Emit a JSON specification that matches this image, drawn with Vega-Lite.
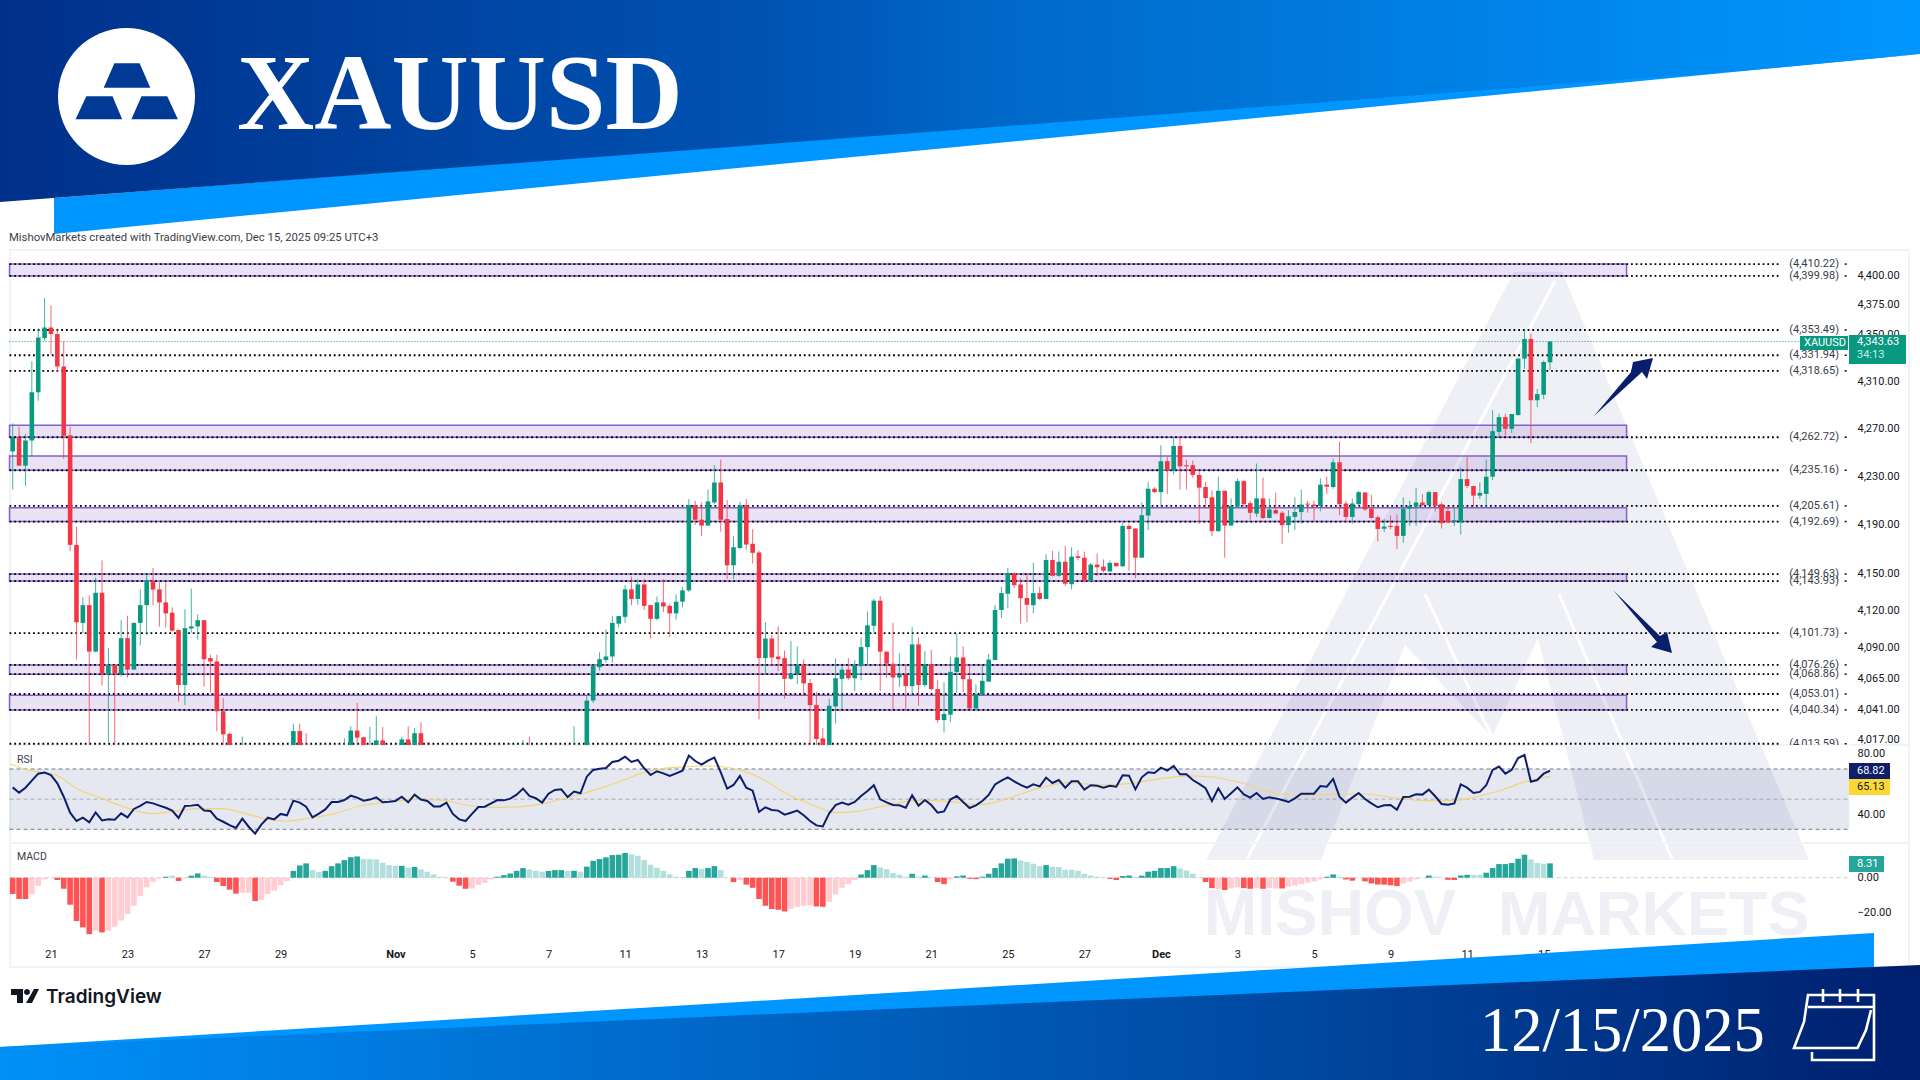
{
"$schema":"https://vega.github.io/schema/vega-lite/v6.json",
"width":1920,"height":1080,"padding":0,"autosize":{"type":"none"},"background":"#ffffff",
"config":{"view":{"stroke":null},"axis":{"grid":false,"domain":false,"ticks":false,"title":null,"labelFont":"Roboto","labelFontSize":11,"labelColor":"#131722","labelPadding":0,"labelOverlap":false,"labelFlush":false}},
"datasets":{
"bars":[
{"i":0,"o":4250.8,"h":4274.4,"l":4219.2,"c":4262.3,"rsi":57.8,"macd":-9.4,"s":"R"},
{"i":1,"o":4262.3,"h":4271.5,"l":4239,"c":4239,"rsi":54.3,"macd":-12.3,"s":"R"},
{"i":2,"o":4239,"h":4265.7,"l":4222.1,"c":4260,"rsi":57.6,"macd":-12.3,"s":"R"},
{"i":3,"o":4260,"h":4326.8,"l":4247,"c":4300.5,"rsi":62.3,"macd":-9.4,"s":"r"},
{"i":4,"o":4300.5,"h":4354.7,"l":4293.3,"c":4347,"rsi":66.9,"macd":-4.6,"s":"r"},
{"i":5,"o":4346.5,"h":4381,"l":4344.4,"c":4355.6,"rsi":67.6,"macd":-1,"s":"r"},
{"i":6,"o":4355.6,"h":4374.5,"l":4332.6,"c":4350,"rsi":66,"macd":-0.2,"s":"r"},
{"i":7,"o":4350,"h":4353.8,"l":4318,"c":4322.4,"rsi":60.5,"macd":-1.3,"s":"R"},
{"i":8,"o":4322.4,"h":4343.8,"l":4244.7,"c":4264,"rsi":51.6,"macd":-6.4,"s":"R"},
{"i":9,"o":4264.3,"h":4271.5,"l":4168.2,"c":4173.5,"rsi":41,"macd":-15.6,"s":"R"},
{"i":10,"o":4173.5,"h":4188.5,"l":4080.6,"c":4110.5,"rsi":35.5,"macd":-25,"s":"R"},
{"i":11,"o":4110,"h":4130.8,"l":4101.6,"c":4124.4,"rsi":37.7,"macd":-28.7,"s":"R"},
{"i":12,"o":4124.4,"h":4132.2,"l":3990,"c":4086.9,"rsi":34.6,"macd":-32.6,"s":"R"},
{"i":13,"o":4086.9,"h":4146.8,"l":4086.4,"c":4134.4,"rsi":41.2,"macd":-30.6,"s":"r"},
{"i":14,"o":4134.4,"h":4160.8,"l":4059.6,"c":4069,"rsi":35.9,"macd":-31.6,"s":"R"},
{"i":15,"o":4069,"h":4090,"l":4015,"c":4076.1,"rsi":36.6,"macd":-30.6,"s":"r"},
{"i":16,"o":4076.1,"h":4076.7,"l":3995,"c":4069.2,"rsi":36.4,"macd":-28.3,"s":"r"},
{"i":17,"o":4069,"h":4112.5,"l":4067,"c":4097.7,"rsi":40.6,"macd":-24.7,"s":"r"},
{"i":18,"o":4097.7,"h":4115.8,"l":4066.2,"c":4072.5,"rsi":37.9,"macd":-21,"s":"r"},
{"i":19,"o":4072.5,"h":4110.5,"l":4072.5,"c":4110,"rsi":43.5,"macd":-16.2,"s":"r"},
{"i":20,"o":4110,"h":4137.2,"l":4091.9,"c":4124.4,"rsi":45.5,"macd":-10.6,"s":"r"},
{"i":21,"o":4124.4,"h":4149.6,"l":4100.2,"c":4144.5,"rsi":48.1,"macd":-5.6,"s":"r"},
{"i":22,"o":4144,"h":4154.6,"l":4124.4,"c":4137,"rsi":47.2,"macd":-2.3,"s":"r"},
{"i":23,"o":4137.2,"h":4143.4,"l":4107,"c":4126.6,"rsi":45.7,"macd":-0.4,"s":"r"},
{"i":24,"o":4126.6,"h":4143.4,"l":4106.3,"c":4117.7,"rsi":44.3,"macd":0.6,"s":"G"},
{"i":25,"o":4118.3,"h":4122.5,"l":4103,"c":4103.8,"rsi":42.4,"macd":1.2,"s":"g"},
{"i":26,"o":4104.4,"h":4104.4,"l":4047,"c":4060.2,"rsi":37.5,"macd":-1.9,"s":"R"},
{"i":27,"o":4060.2,"h":4121,"l":4044.2,"c":4105.8,"rsi":45.5,"macd":-0.2,"s":"r"},
{"i":28,"o":4105.5,"h":4137.8,"l":4102.2,"c":4107.2,"rsi":45.7,"macd":1.2,"s":"G"},
{"i":29,"o":4107.2,"h":4116.9,"l":4096.6,"c":4112.2,"rsi":46.3,"macd":2.5,"s":"G"},
{"i":30,"o":4112.2,"h":4112.2,"l":4058.8,"c":4080.8,"rsi":42.4,"macd":1.2,"s":"g"},
{"i":31,"o":4081.7,"h":4084.4,"l":4054.1,"c":4079,"rsi":42.1,"macd":0.4,"s":"g"},
{"i":32,"o":4079,"h":4084.4,"l":4023.3,"c":4039.3,"rsi":37,"macd":-2.5,"s":"R"},
{"i":33,"o":4039.3,"h":4049.7,"l":4000,"c":4021,"rsi":35,"macd":-4.8,"s":"R"},
{"i":34,"o":4021.4,"h":4022.5,"l":3998,"c":4005,"rsi":32.8,"macd":-6.9,"s":"R"},
{"i":35,"o":4005,"h":4010,"l":3985,"c":3990,"rsi":30.9,"macd":-9.2,"s":"R"},
{"i":36,"o":3985,"h":4019.2,"l":3975,"c":4000,"rsi":37,"macd":-8.7,"s":"r"},
{"i":37,"o":4000,"h":4008,"l":3978,"c":3985,"rsi":31.7,"macd":-8.7,"s":"r"},
{"i":38,"o":3985,"h":3992,"l":3960,"c":3970,"rsi":27.1,"macd":-13.5,"s":"R"},
{"i":39,"o":3970,"h":3995,"l":3965,"c":3985,"rsi":33.3,"macd":-12.9,"s":"r"},
{"i":40,"o":3985,"h":4005,"l":3980,"c":3998,"rsi":37.7,"macd":-9.4,"s":"r"},
{"i":41,"o":3990,"h":4008,"l":3985,"c":4000,"rsi":36.6,"macd":-7.5,"s":"r"},
{"i":42,"o":4000,"h":4006,"l":3985,"c":3992,"rsi":40.2,"macd":-4.2,"s":"r"},
{"i":43,"o":3992,"h":4012,"l":3990,"c":4005,"rsi":39.3,"macd":-1.9,"s":"r"},
{"i":44,"o":4005,"h":4029.5,"l":4000,"c":4023.6,"rsi":49,"macd":4,"s":"G"},
{"i":45,"o":4023.6,"h":4029.5,"l":4000,"c":4008,"rsi":47.7,"macd":7.1,"s":"G"},
{"i":46,"o":4008,"h":4021.9,"l":3995,"c":4000,"rsi":45,"macd":8.3,"s":"G"},
{"i":47,"o":4000,"h":4006,"l":3985,"c":3990,"rsi":37.9,"macd":4.4,"s":"g"},
{"i":48,"o":3990,"h":3998,"l":3978,"c":3985,"rsi":40.4,"macd":3.3,"s":"g"},
{"i":49,"o":3985,"h":4000,"l":3980,"c":3995,"rsi":43.2,"macd":4,"s":"G"},
{"i":50,"o":3995,"h":4006,"l":3990,"c":4000,"rsi":48.1,"macd":6.7,"s":"G"},
{"i":51,"o":4000,"h":4008,"l":3990,"c":3996,"rsi":48.1,"macd":8.3,"s":"G"},
{"i":52,"o":3996,"h":4017.9,"l":3992,"c":4008,"rsi":49.4,"macd":10.2,"s":"G"},
{"i":53,"o":4008,"h":4027.4,"l":4004,"c":4024,"rsi":52.3,"macd":11.9,"s":"G"},
{"i":54,"o":4024,"h":4045.9,"l":4012,"c":4018.4,"rsi":51,"macd":12.3,"s":"G"},
{"i":55,"o":4018.7,"h":4019.2,"l":4004,"c":4008,"rsi":49,"macd":10.8,"s":"g"},
{"i":56,"o":4008,"h":4026.8,"l":4003,"c":4010,"rsi":49.7,"macd":10.8,"s":"g"},
{"i":57,"o":4010,"h":4035.5,"l":4006,"c":4016.2,"rsi":51.2,"macd":10.6,"s":"g"},
{"i":58,"o":4016.2,"h":4026.8,"l":4000,"c":4006,"rsi":47.9,"macd":8.7,"s":"g"},
{"i":59,"o":4006,"h":4010,"l":3995,"c":4000,"rsi":48.3,"macd":7.3,"s":"g"},
{"i":60,"o":4000,"h":4012,"l":3998,"c":4008,"rsi":48.8,"macd":6.9,"s":"g"},
{"i":61,"o":4008,"h":4019.2,"l":4005,"c":4017,"rsi":51.6,"macd":6.9,"s":"G"},
{"i":62,"o":4017,"h":4027.4,"l":4002,"c":4006,"rsi":47.9,"macd":5.8,"s":"g"},
{"i":63,"o":4006,"h":4026,"l":4003,"c":4021.9,"rsi":53,"macd":6.2,"s":"G"},
{"i":64,"o":4021.9,"h":4030.6,"l":4004,"c":4008,"rsi":49.7,"macd":4.8,"s":"g"},
{"i":65,"o":4008,"h":4014.9,"l":3995,"c":4000,"rsi":48.8,"macd":3.5,"s":"g"},
{"i":66,"o":4000,"h":4006,"l":3985,"c":3990,"rsi":45.2,"macd":1.9,"s":"g"},
{"i":67,"o":3990,"h":4004,"l":3985,"c":3998,"rsi":45.2,"macd":0.6,"s":"g"},
{"i":68,"o":3998,"h":4002,"l":3980,"c":3985,"rsi":47.7,"macd":0.2,"s":"g"},
{"i":69,"o":3985,"h":3990,"l":3965,"c":3970,"rsi":40.2,"macd":-2.3,"s":"R"},
{"i":70,"o":3970,"h":3975,"l":3952,"c":3960,"rsi":36.6,"macd":-4.6,"s":"R"},
{"i":71,"o":3960,"h":3972,"l":3955,"c":3965,"rsi":35.5,"macd":-6.4,"s":"R"},
{"i":72,"o":3965,"h":3984,"l":3960,"c":3978,"rsi":40.2,"macd":-6.2,"s":"r"},
{"i":73,"o":3978,"h":3994,"l":3975,"c":3988,"rsi":44.8,"macd":-4.2,"s":"r"},
{"i":74,"o":3988,"h":3998,"l":3982,"c":3992,"rsi":45,"macd":-2.9,"s":"r"},
{"i":75,"o":3992,"h":4004,"l":3988,"c":3998,"rsi":47.2,"macd":-1,"s":"r"},
{"i":76,"o":3998,"h":4008,"l":3994,"c":4002,"rsi":49.4,"macd":0.6,"s":"G"},
{"i":77,"o":4002,"h":4006,"l":3994,"c":3999,"rsi":49.2,"macd":1.5,"s":"G"},
{"i":78,"o":3999,"h":4010,"l":3995,"c":4004,"rsi":50.3,"macd":2.5,"s":"G"},
{"i":79,"o":4004,"h":4012,"l":4000,"c":4008,"rsi":53,"macd":4,"s":"G"},
{"i":80,"o":4000,"h":4016.5,"l":3996,"c":4008,"rsi":57,"macd":5.6,"s":"G"},
{"i":81,"o":4008,"h":4019.2,"l":3998,"c":4002,"rsi":52.1,"macd":4.8,"s":"g"},
{"i":82,"o":4002,"h":4008,"l":3992,"c":3996,"rsi":50.6,"macd":4,"s":"g"},
{"i":83,"o":3996,"h":4000,"l":3985,"c":3990,"rsi":47.7,"macd":3.5,"s":"g"},
{"i":84,"o":3990,"h":4004,"l":3986,"c":3998,"rsi":53.6,"macd":3.9,"s":"G"},
{"i":85,"o":3998,"h":4008,"l":3994,"c":4004,"rsi":56.1,"macd":4.4,"s":"G"},
{"i":86,"o":4004,"h":4008,"l":3996,"c":4000,"rsi":56.5,"macd":4.4,"s":"G"},
{"i":87,"o":4000,"h":4006,"l":3992,"c":3998,"rsi":51.4,"macd":4,"s":"g"},
{"i":88,"o":3998,"h":4027.4,"l":3994,"c":4006,"rsi":55,"macd":4,"s":"G"},
{"i":89,"o":3998,"h":4010,"l":3995,"c":4005,"rsi":53.9,"macd":3.5,"s":"g"},
{"i":90,"o":4005,"h":4051.9,"l":4000,"c":4047.8,"rsi":64.9,"macd":6.4,"s":"G"},
{"i":91,"o":4047.8,"h":4076.7,"l":4045.9,"c":4075.3,"rsi":69.4,"macd":9.8,"s":"G"},
{"i":92,"o":4074.4,"h":4086.4,"l":4071.7,"c":4080.8,"rsi":70.2,"macd":10.8,"s":"G"},
{"i":93,"o":4080.2,"h":4104.9,"l":4078,"c":4083,"rsi":70.7,"macd":11.8,"s":"G"},
{"i":94,"o":4083,"h":4115.5,"l":4078,"c":4110,"rsi":74.7,"macd":13.1,"s":"G"},
{"i":95,"o":4109.4,"h":4115.5,"l":4106.3,"c":4115.5,"rsi":75.5,"macd":13.3,"s":"G"},
{"i":96,"o":4114.9,"h":4140.6,"l":4110,"c":4137.2,"rsi":78.2,"macd":14.3,"s":"G"},
{"i":97,"o":4137.2,"h":4147.6,"l":4124.4,"c":4129.4,"rsi":74.7,"macd":13.5,"s":"g"},
{"i":98,"o":4129.4,"h":4145.4,"l":4124.7,"c":4141.2,"rsi":76,"macd":12.7,"s":"g"},
{"i":99,"o":4141.2,"h":4145.4,"l":4120.5,"c":4123.8,"rsi":70.5,"macd":10.2,"s":"g"},
{"i":100,"o":4124.4,"h":4124.4,"l":4097.4,"c":4113.3,"rsi":66,"macd":7.5,"s":"g"},
{"i":101,"o":4113.3,"h":4131.4,"l":4111.9,"c":4126.6,"rsi":68.5,"macd":5.8,"s":"g"},
{"i":102,"o":4126.6,"h":4145.4,"l":4118.8,"c":4123.3,"rsi":67.1,"macd":4,"s":"g"},
{"i":103,"o":4123.8,"h":4125.2,"l":4098.8,"c":4117.7,"rsi":65.4,"macd":1.9,"s":"g"},
{"i":104,"o":4117.7,"h":4133,"l":4112.7,"c":4127.2,"rsi":67.1,"macd":0.6,"s":"g"},
{"i":105,"o":4127.2,"h":4139.2,"l":4122.5,"c":4136.4,"rsi":68.9,"macd":0.4,"s":"g"},
{"i":106,"o":4136.4,"h":4211.3,"l":4135,"c":4206.2,"rsi":78.9,"macd":4,"s":"G"},
{"i":107,"o":4206.2,"h":4209.8,"l":4190,"c":4194.2,"rsi":75.3,"macd":5.6,"s":"G"},
{"i":108,"o":4194.2,"h":4208.4,"l":4180.6,"c":4189.4,"rsi":72.9,"macd":5.2,"s":"g"},
{"i":109,"o":4189.4,"h":4219.2,"l":4189.1,"c":4209.3,"rsi":75.5,"macd":5.6,"s":"G"},
{"i":110,"o":4208.4,"h":4239.3,"l":4207,"c":4225,"rsi":77.5,"macd":6.7,"s":"G"},
{"i":111,"o":4225,"h":4244.1,"l":4184.3,"c":4194.2,"rsi":67.8,"macd":4.4,"s":"g"},
{"i":112,"o":4194.8,"h":4210.4,"l":4145.6,"c":4156.8,"rsi":57,"macd":0,"s":"r"},
{"i":113,"o":4156.8,"h":4180.6,"l":4145.6,"c":4171.6,"rsi":59.4,"macd":-2.5,"s":"R"},
{"i":114,"o":4171,"h":4209,"l":4170.1,"c":4206.2,"rsi":65.4,"macd":-1.3,"s":"r"},
{"i":115,"o":4206.2,"h":4211.3,"l":4169.6,"c":4173.8,"rsi":57.6,"macd":-4,"s":"R"},
{"i":116,"o":4174.4,"h":4186.5,"l":4158.2,"c":4167,"rsi":55.6,"macd":-5.8,"s":"R"},
{"i":117,"o":4167.3,"h":4168.7,"l":4032.8,"c":4081.7,"rsi":41.5,"macd":-12.3,"s":"R"},
{"i":118,"o":4081.7,"h":4110.8,"l":4069,"c":4097.4,"rsi":44.6,"macd":-16.2,"s":"R"},
{"i":119,"o":4097.4,"h":4100.2,"l":4075.3,"c":4082.2,"rsi":42.8,"macd":-18.1,"s":"R"},
{"i":120,"o":4083,"h":4107.2,"l":4071.2,"c":4080.8,"rsi":42.4,"macd":-18.5,"s":"R"},
{"i":121,"o":4081.7,"h":4087.8,"l":4049.2,"c":4065.1,"rsi":39.7,"macd":-19.5,"s":"R"},
{"i":122,"o":4065.1,"h":4095.5,"l":4064.3,"c":4069,"rsi":41,"macd":-17.9,"s":"r"},
{"i":123,"o":4069,"h":4091,"l":4060.7,"c":4076.1,"rsi":42.4,"macd":-16.8,"s":"r"},
{"i":124,"o":4076.1,"h":4080.8,"l":4051.9,"c":4061.5,"rsi":39.3,"macd":-16.2,"s":"r"},
{"i":125,"o":4061.8,"h":4065.1,"l":4005,"c":4044.2,"rsi":35.5,"macd":-16,"s":"r"},
{"i":126,"o":4044.2,"h":4054.7,"l":4005,"c":4017.3,"rsi":32.6,"macd":-16.6,"s":"R"},
{"i":127,"o":4017.8,"h":4025.9,"l":3998,"c":4005,"rsi":31.9,"macd":-16.8,"s":"R"},
{"i":128,"o":4005,"h":4049.2,"l":3998,"c":4043.7,"rsi":40.6,"macd":-13.9,"s":"r"},
{"i":129,"o":4043.1,"h":4081.4,"l":4029.5,"c":4065.6,"rsi":46.1,"macd":-9.6,"s":"r"},
{"i":130,"o":4065.1,"h":4075.3,"l":4041,"c":4072.5,"rsi":47.7,"macd":-5.8,"s":"r"},
{"i":131,"o":4072.5,"h":4081.7,"l":4064.3,"c":4065.6,"rsi":46.3,"macd":-3.7,"s":"r"},
{"i":132,"o":4065.6,"h":4080,"l":4055.2,"c":4076.1,"rsi":48.1,"macd":-1.3,"s":"r"},
{"i":133,"o":4075.3,"h":4098.3,"l":4064.3,"c":4090.5,"rsi":52.1,"macd":1.9,"s":"G"},
{"i":134,"o":4090.5,"h":4119.1,"l":4076.7,"c":4108,"rsi":55.4,"macd":4.4,"s":"G"},
{"i":135,"o":4107.7,"h":4129.4,"l":4102.2,"c":4128,"rsi":59.2,"macd":7.3,"s":"G"},
{"i":136,"o":4128,"h":4131.6,"l":4055.2,"c":4086.9,"rsi":49.9,"macd":6,"s":"g"},
{"i":137,"o":4086.9,"h":4086.9,"l":4065.6,"c":4077.2,"rsi":47.9,"macd":5,"s":"g"},
{"i":138,"o":4077.2,"h":4110,"l":4041,"c":4066.2,"rsi":46.1,"macd":2.7,"s":"g"},
{"i":139,"o":4066.2,"h":4085.5,"l":4058.5,"c":4068.4,"rsi":45.9,"macd":1.7,"s":"g"},
{"i":140,"o":4068.4,"h":4076.7,"l":4039.6,"c":4059.3,"rsi":44.3,"macd":0.6,"s":"g"},
{"i":141,"o":4059.3,"h":4106.6,"l":4051.9,"c":4092.7,"rsi":52.5,"macd":2.3,"s":"G"},
{"i":142,"o":4092.7,"h":4098.3,"l":4043.7,"c":4060.2,"rsi":45.7,"macd":0.6,"s":"g"},
{"i":143,"o":4060.2,"h":4087.2,"l":4058.8,"c":4076.7,"rsi":49.4,"macd":1.3,"s":"G"},
{"i":144,"o":4076.7,"h":4088.3,"l":4056,"c":4056.9,"rsi":46.1,"macd":0.2,"s":"g"},
{"i":145,"o":4056.9,"h":4064,"l":4030,"c":4032.3,"rsi":41,"macd":-2.5,"s":"R"},
{"i":146,"o":4032.3,"h":4062.4,"l":4022.5,"c":4037.2,"rsi":41.9,"macd":-3.7,"s":"R"},
{"i":147,"o":4036.6,"h":4082.8,"l":4030.6,"c":4070.6,"rsi":49.7,"macd":-1,"s":"r"},
{"i":148,"o":4070.6,"h":4101.6,"l":4054.1,"c":4082.2,"rsi":52.1,"macd":0.8,"s":"G"},
{"i":149,"o":4082.2,"h":4091,"l":4054.7,"c":4064.8,"rsi":48.1,"macd":1.3,"s":"G"},
{"i":150,"o":4064.8,"h":4076.7,"l":4041,"c":4041.5,"rsi":44.1,"macd":-0.6,"s":"R"},
{"i":151,"o":4041.5,"h":4060.7,"l":4041,"c":4053,"rsi":45.9,"macd":-0.8,"s":"R"},
{"i":152,"o":4052.5,"h":4076.7,"l":4051.9,"c":4063.5,"rsi":48.8,"macd":0.6,"s":"G"},
{"i":153,"o":4062.9,"h":4085,"l":4062.4,"c":4080.5,"rsi":52.8,"macd":2.3,"s":"G"},
{"i":154,"o":4080.2,"h":4124.4,"l":4080,"c":4120.5,"rsi":59.8,"macd":5.6,"s":"G"},
{"i":155,"o":4120.5,"h":4139.2,"l":4114,"c":4134.2,"rsi":62.3,"macd":8.3,"s":"G"},
{"i":156,"o":4133.6,"h":4154.6,"l":4121.9,"c":4150.4,"rsi":64.5,"macd":11,"s":"G"},
{"i":157,"o":4150.4,"h":4150.4,"l":4138.4,"c":4140.6,"rsi":61.8,"macd":11.2,"s":"G"},
{"i":158,"o":4141.2,"h":4146.2,"l":4109.4,"c":4130,"rsi":59.4,"macd":10,"s":"g"},
{"i":159,"o":4130.2,"h":4150.4,"l":4110.8,"c":4124.7,"rsi":57.6,"macd":9.1,"s":"g"},
{"i":160,"o":4124.4,"h":4158.8,"l":4117.7,"c":4134.2,"rsi":59.8,"macd":8.1,"s":"g"},
{"i":161,"o":4134.2,"h":4139.2,"l":4128.6,"c":4129.4,"rsi":58.5,"macd":6.7,"s":"g"},
{"i":162,"o":4129.4,"h":4165.9,"l":4129.4,"c":4161.1,"rsi":64.3,"macd":7.3,"s":"G"},
{"i":163,"o":4161.1,"h":4168.7,"l":4147.6,"c":4148.2,"rsi":60.7,"macd":6.4,"s":"g"},
{"i":164,"o":4148.2,"h":4168.1,"l":4147.6,"c":4159.7,"rsi":62.7,"macd":6.2,"s":"g"},
{"i":165,"o":4159.7,"h":4172.7,"l":4140,"c":4141.8,"rsi":57.6,"macd":4.6,"s":"g"},
{"i":166,"o":4141.4,"h":4171.5,"l":4137.2,"c":4163.9,"rsi":61.8,"macd":4.6,"s":"g"},
{"i":167,"o":4164.2,"h":4169.3,"l":4160.8,"c":4162.8,"rsi":61.8,"macd":4,"s":"g"},
{"i":168,"o":4163,"h":4168,"l":4143.4,"c":4144.2,"rsi":56.3,"macd":2.3,"s":"g"},
{"i":169,"o":4144,"h":4158.8,"l":4142.8,"c":4157.4,"rsi":59.2,"macd":1.3,"s":"g"},
{"i":170,"o":4157.4,"h":4166.5,"l":4148.2,"c":4155.2,"rsi":58.9,"macd":0.6,"s":"g"},
{"i":171,"o":4155.7,"h":4161.6,"l":4151.2,"c":4152.4,"rsi":57.6,"macd":0.2,"s":"g"},
{"i":172,"o":4151.8,"h":4160.8,"l":4151.8,"c":4158.8,"rsi":58.9,"macd":-0.6,"s":"R"},
{"i":173,"o":4158.8,"h":4158.8,"l":4156,"c":4156,"rsi":58.3,"macd":-1.3,"s":"R"},
{"i":174,"o":4156,"h":4191.9,"l":4155.4,"c":4189,"rsi":65.8,"macd":1,"s":"G"},
{"i":175,"o":4189,"h":4190.8,"l":4152.4,"c":4186.5,"rsi":65.6,"macd":1.3,"s":"G"},
{"i":176,"o":4187,"h":4187,"l":4146.2,"c":4163,"rsi":56.5,"macd":0.4,"s":"g"},
{"i":177,"o":4163,"h":4208.4,"l":4163,"c":4197.9,"rsi":64.5,"macd":1.2,"s":"G"},
{"i":178,"o":4197.6,"h":4225.5,"l":4185.7,"c":4219.8,"rsi":67.8,"macd":3.5,"s":"G"},
{"i":179,"o":4219.8,"h":4221.2,"l":4216.4,"c":4217,"rsi":67.4,"macd":4,"s":"G"},
{"i":180,"o":4217,"h":4256,"l":4205,"c":4242.7,"rsi":70.9,"macd":5.6,"s":"G"},
{"i":181,"o":4242.7,"h":4246.2,"l":4215.5,"c":4235,"rsi":68.9,"macd":5.6,"s":"G"},
{"i":182,"o":4235,"h":4262,"l":4231.8,"c":4255.4,"rsi":72,"macd":6.7,"s":"G"},
{"i":183,"o":4255.4,"h":4263.4,"l":4219.2,"c":4238.4,"rsi":66.5,"macd":5.4,"s":"g"},
{"i":184,"o":4239.3,"h":4244.1,"l":4219.2,"c":4238.4,"rsi":66.5,"macd":4.2,"s":"g"},
{"i":185,"o":4239.3,"h":4243.3,"l":4229,"c":4231.3,"rsi":62.7,"macd":2.3,"s":"g"},
{"i":186,"o":4231.3,"h":4235.5,"l":4191,"c":4220.7,"rsi":60.1,"macd":0.2,"s":"g"},
{"i":187,"o":4221.2,"h":4225.5,"l":4204.2,"c":4212.1,"rsi":57.2,"macd":-2.5,"s":"R"},
{"i":188,"o":4212.7,"h":4218.4,"l":4180.6,"c":4184.8,"rsi":48.8,"macd":-6,"s":"R"},
{"i":189,"o":4184.8,"h":4229.8,"l":4184.3,"c":4218.1,"rsi":57.2,"macd":-6.7,"s":"r"},
{"i":190,"o":4218.1,"h":4218.1,"l":4163,"c":4189.4,"rsi":50.1,"macd":-7.1,"s":"R"},
{"i":191,"o":4189.4,"h":4211.8,"l":4189.1,"c":4205.6,"rsi":53.9,"macd":-6.2,"s":"r"},
{"i":192,"o":4205,"h":4228.4,"l":4204.7,"c":4226.1,"rsi":57.8,"macd":-5.6,"s":"r"},
{"i":193,"o":4226.1,"h":4226.7,"l":4204.2,"c":4207,"rsi":53.2,"macd":-6,"s":"R"},
{"i":194,"o":4207.9,"h":4209.8,"l":4194.2,"c":4199.9,"rsi":51,"macd":-6.4,"s":"R"},
{"i":195,"o":4199.3,"h":4240.7,"l":4196.5,"c":4211.8,"rsi":54.1,"macd":-6,"s":"r"},
{"i":196,"o":4211.8,"h":4229,"l":4195,"c":4195.6,"rsi":50.1,"macd":-6.4,"s":"R"},
{"i":197,"o":4195.6,"h":4211.8,"l":4195.3,"c":4202.7,"rsi":51.2,"macd":-6,"s":"r"},
{"i":198,"o":4202.2,"h":4216.4,"l":4199,"c":4199.3,"rsi":50.5,"macd":-6.2,"s":"r"},
{"i":199,"o":4199.9,"h":4201.3,"l":4174.4,"c":4189.7,"rsi":49.4,"macd":-6.2,"s":"R"},
{"i":200,"o":4189.7,"h":4202.2,"l":4183.4,"c":4197,"rsi":48.1,"macd":-5.2,"s":"r"},
{"i":201,"o":4196.5,"h":4212.7,"l":4185.7,"c":4200.5,"rsi":50.5,"macd":-4.6,"s":"r"},
{"i":202,"o":4200.5,"h":4219,"l":4190.8,"c":4206.7,"rsi":53.6,"macd":-3.7,"s":"r"},
{"i":203,"o":4207.5,"h":4209.8,"l":4200,"c":4206.7,"rsi":53.6,"macd":-2.9,"s":"r"},
{"i":204,"o":4206.7,"h":4209.8,"l":4193.6,"c":4205.6,"rsi":53.6,"macd":-2.1,"s":"r"},
{"i":205,"o":4205.6,"h":4228.4,"l":4201,"c":4223.2,"rsi":58.7,"macd":-1,"s":"r"},
{"i":206,"o":4223.2,"h":4229.8,"l":4215.5,"c":4221.5,"rsi":58.3,"macd":0.6,"s":"G"},
{"i":207,"o":4221.2,"h":4245,"l":4219.8,"c":4241.8,"rsi":63.4,"macd":1.9,"s":"G"},
{"i":208,"o":4241.8,"h":4259.1,"l":4197.9,"c":4207,"rsi":51.6,"macd":0.6,"s":"g"},
{"i":209,"o":4207.6,"h":4209.8,"l":4191.9,"c":4196.5,"rsi":47.7,"macd":-1,"s":"R"},
{"i":210,"o":4196.5,"h":4211.8,"l":4190.8,"c":4207.6,"rsi":51,"macd":-1.7,"s":"R"},
{"i":211,"o":4207,"h":4218.1,"l":4206.2,"c":4217,"rsi":54.1,"macd":-0.1,"s":"r"},
{"i":212,"o":4216.7,"h":4216.7,"l":4201.3,"c":4202.7,"rsi":50.1,"macd":-2.1,"s":"R"},
{"i":213,"o":4203.3,"h":4214.7,"l":4195.3,"c":4195.6,"rsi":47.2,"macd":-3.3,"s":"R"},
{"i":214,"o":4196.2,"h":4197.6,"l":4176.4,"c":4186.5,"rsi":44.6,"macd":-3.9,"s":"R"},
{"i":215,"o":4186.8,"h":4194.8,"l":4184,"c":4188.5,"rsi":45.9,"macd":-4,"s":"R"},
{"i":216,"o":4189.1,"h":4197.6,"l":4186.3,"c":4188.2,"rsi":46.1,"macd":-4.4,"s":"R"},
{"i":217,"o":4189.1,"h":4198.5,"l":4170.1,"c":4180.9,"rsi":43,"macd":-4.8,"s":"R"},
{"i":218,"o":4180.9,"h":4212.7,"l":4175.2,"c":4203.3,"rsi":51.4,"macd":-3.3,"s":"r"},
{"i":219,"o":4203.3,"h":4209.8,"l":4189.1,"c":4205.6,"rsi":51.6,"macd":-2.3,"s":"r"},
{"i":220,"o":4205,"h":4220.4,"l":4189.1,"c":4208.4,"rsi":53.2,"macd":-1,"s":"r"},
{"i":221,"o":4208.4,"h":4215.5,"l":4205.6,"c":4206.2,"rsi":53,"macd":-0.1,"s":"r"},
{"i":222,"o":4206.2,"h":4218.1,"l":4205.6,"c":4217,"rsi":56.3,"macd":1.3,"s":"G"},
{"i":223,"o":4217,"h":4217,"l":4201,"c":4205.6,"rsi":51.9,"macd":0.6,"s":"g"},
{"i":224,"o":4207,"h":4208.4,"l":4187,"c":4191.4,"rsi":46.8,"macd":-0.2,"s":"r"},
{"i":225,"o":4201.3,"h":4205.6,"l":4191.4,"c":4192,"rsi":46.3,"macd":-1.2,"s":"R"},
{"i":226,"o":4192.5,"h":4204,"l":4189,"c":4193.7,"rsi":47.2,"macd":-1.3,"s":"R"},
{"i":227,"o":4192,"h":4237.5,"l":4182,"c":4227.8,"rsi":59.8,"macd":1.3,"s":"G"},
{"i":228,"o":4227.8,"h":4246.2,"l":4220.4,"c":4222.1,"rsi":57.6,"macd":1.7,"s":"G"},
{"i":229,"o":4222.1,"h":4222.1,"l":4205,"c":4214.1,"rsi":54.1,"macd":1.7,"s":"g"},
{"i":230,"o":4214.1,"h":4225,"l":4211.3,"c":4216.4,"rsi":54.8,"macd":1.7,"s":"g"},
{"i":231,"o":4215.5,"h":4244.1,"l":4205,"c":4229.8,"rsi":59.2,"macd":2.9,"s":"G"},
{"i":232,"o":4229.8,"h":4285.4,"l":4227,"c":4267.8,"rsi":69.4,"macd":5.6,"s":"G"},
{"i":233,"o":4267.2,"h":4282.5,"l":4262.9,"c":4279.6,"rsi":71.6,"macd":7.9,"s":"G"},
{"i":234,"o":4279.6,"h":4282.5,"l":4264.3,"c":4269.8,"rsi":66.9,"macd":7.9,"s":"G"},
{"i":235,"o":4269.8,"h":4282.2,"l":4266.3,"c":4282.2,"rsi":69.4,"macd":8.5,"s":"G"},
{"i":236,"o":4281.4,"h":4329.1,"l":4280.8,"c":4329.1,"rsi":77.3,"macd":11,"s":"G"},
{"i":237,"o":4329.1,"h":4353.2,"l":4320.4,"c":4345.9,"rsi":79.3,"macd":13.3,"s":"G"},
{"i":238,"o":4345.9,"h":4350.3,"l":4257.7,"c":4293.8,"rsi":61.6,"macd":10.6,"s":"g"},
{"i":239,"o":4293.8,"h":4303.4,"l":4288,"c":4299,"rsi":62.7,"macd":8.5,"s":"g"},
{"i":240,"o":4298.5,"h":4327.4,"l":4294.7,"c":4326.2,"rsi":66.9,"macd":8.1,"s":"g"},
{"i":241,"o":4325.9,"h":4344,"l":4319.5,"c":4343.63,"rsi":68.82,"macd":8.31,"s":"G"}
],
"rsima":[
{"i":-0.4,"m":73.3},{"i":1.9,"m":69.8},{"i":4.4,"m":67.8},{"i":7,"m":65.6},{"i":10.2,"m":56.7},{"i":14,"m":50.5},{"i":18.5,"m":43.5},{"i":21.7,"m":40.4},{"i":25.6,"m":42.1},{"i":29.4,"m":43.7},{"i":32.9,"m":43.7},{"i":36.5,"m":40.4},{"i":39.7,"m":36.8},{"i":42.9,"m":35.5},{"i":46.7,"m":37.5},{"i":50.6,"m":40.6},{"i":55.1,"m":46.1},{"i":58.9,"m":47.9},{"i":62.8,"m":49.9},{"i":67.2,"m":49.4},{"i":71.1,"m":46.1},{"i":74.9,"m":44.6},{"i":78.8,"m":44.8},{"i":83.3,"m":47.2},{"i":87.8,"m":51.9},{"i":92.9,"m":58.3},{"i":96.1,"m":63.2},{"i":98.5,"m":67.1},{"i":101.6,"m":70},{"i":104.8,"m":71.3},{"i":109.3,"m":72},{"i":114.4,"m":68.9},{"i":117.6,"m":63.2},{"i":121.4,"m":53.4},{"i":125.3,"m":46.3},{"i":129.1,"m":41},{"i":132.3,"m":41.9},{"i":136.8,"m":45.7},{"i":141.9,"m":49.2},{"i":147,"m":48.3},{"i":151.5,"m":46.3},{"i":156,"m":50.5},{"i":161.1,"m":57.6},{"i":165.6,"m":60.9},{"i":170.7,"m":59.4},{"i":175.2,"m":60.5},{"i":180.3,"m":63.8},{"i":184.2,"m":65.4},{"i":188,"m":64.7},{"i":192.5,"m":60.9},{"i":198.8,"m":53.4},{"i":202.6,"m":52.7},{"i":207.1,"m":53.2},{"i":211.6,"m":53.4},{"i":217.4,"m":50.5},{"i":221.2,"m":49},{"i":225.7,"m":49},{"i":229.5,"m":51.6},{"i":233.4,"m":56.1},{"i":237.2,"m":61.6},{"i":241,"m":65.13}
],
"levels":[
{"level":4410.22,"label":"(4,410.22)"},{"level":4399.98,"label":"(4,399.98)"},{"level":4353.49,"label":"(4,353.49)"},{"level":4331.94,"label":"(4,331.94)"},{"level":4318.65,"label":"(4,318.65)"},{"level":4262.72,"label":"(4,262.72)"},{"level":4235.16,"label":"(4,235.16)"},{"level":4205.61,"label":"(4,205.61)"},{"level":4192.69,"label":"(4,192.69)"},{"level":4149.63,"label":"(4,149.63)"},{"level":4143.93,"label":"(4,143.93)"},{"level":4101.73,"label":"(4,101.73)"},{"level":4076.26,"label":"(4,076.26)"},{"level":4068.86,"label":"(4,068.86)"},{"level":4053.01,"label":"(4,053.01)"},{"level":4040.34,"label":"(4,040.34)"},{"level":4013.59,"label":"(4,013.59)"}
],
"zones":[
{"hi":4410.22,"lo":4399.98},{"hi":4272.7,"lo":4262.72},{"hi":4247,"lo":4235.16},{"hi":4204,"lo":4192.69},{"hi":4149.63,"lo":4143.93},{"hi":4076.26,"lo":4068.86},{"hi":4052,"lo":4040.34}
]
},
"layer":[
{"layer":[
 {"data":{"values":[{"x":1206,"t":860,"b":860},{"x":1514,"t":272,"b":860},{"x":1562,"t":272,"b":860},{"x":1809,"t":860,"b":860}]},
  "mark":{"type":"area","orient":"vertical","color":"#eef0f5"},
  "encoding":{"x":{"field":"x","type":"quantitative","scale":{"domain":[0,1920],"range":[0,1920],"nice":false,"zero":false},"axis":null},
   "y":{"field":"t","type":"quantitative","scale":{"domain":[0,1080],"range":[0,1080],"nice":false,"zero":false},"axis":null},"y2":{"field":"b"}}},
 {"data":{"values":[{"x":1321,"t":860,"b":860},{"x":1405,"t":645,"b":860},{"x":1492,"t":737,"b":860},{"x":1538,"t":638,"b":860},{"x":1594,"t":860,"b":860}]},
  "mark":{"type":"area","orient":"vertical","color":"#ffffff"},
  "encoding":{"x":{"field":"x","type":"quantitative"},"y":{"field":"t","type":"quantitative"},"y2":{"field":"b"}}},
 {"data":{"values":[{"p":"a","n":0,"x":1555,"y":281},{"p":"a","n":1,"x":1247,"y":859},{"p":"b","n":0,"x":1425,"y":594},{"p":"b","n":1,"x":1492,"y":737},{"p":"c","n":0,"x":1559,"y":594},{"p":"c","n":1,"x":1672,"y":859}]},
  "mark":{"type":"line","color":"#ffffff","strokeWidth":3},
  "encoding":{"x":{"field":"x","type":"quantitative"},"y":{"field":"y","type":"quantitative"},"detail":{"field":"p"},"order":{"field":"n"}}},
 {"data":{"values":[{"t":"MISHOV"}]},"mark":{"type":"text","font":"Liberation Sans","fontWeight":"bold","fontSize":64,"align":"left","baseline":"alphabetic","color":"#eef0f5"},
  "encoding":{"x":{"datum":1204},"y":{"datum":935},"text":{"field":"t"}}},
 {"data":{"values":[{"t":"MARKETS"}]},"mark":{"type":"text","font":"Liberation Sans","fontWeight":"bold","fontSize":63,"align":"left","baseline":"alphabetic","color":"#eef0f5"},
  "encoding":{"x":{"datum":1498},"y":{"datum":935},"text":{"field":"t"}}},
 {"data":{"values":[{"x":10,"x2":1909,"y":250,"y2":967}]},"mark":{"type":"rect","fill":null,"stroke":"#f0f3fa","strokeWidth":2},
  "encoding":{"x":{"field":"x","type":"quantitative"},"x2":{"field":"x2"},"y":{"field":"y","type":"quantitative"},"y2":{"field":"y2"}}},
 {"data":{"values":[{"y":745},{"y":843}]},"mark":{"type":"rule","color":"#f0f3fa","strokeWidth":2},
  "encoding":{"x":{"datum":10},"x2":{"datum":1909},"y":{"field":"y","type":"quantitative"}}}
]},
{"layer":[
 {"data":{"name":"zones"},"mark":{"type":"rect","fill":"#7e57c2","fillOpacity":0.17,"stroke":"#8257c8","strokeWidth":1.5,"strokeOpacity":0.95},
  "encoding":{"x":{"datum":-0.5,"scale":{"domain":[-1.991,299.0],"range":[0,1920],"nice":false,"zero":false,"padding":0},"axis":null},"x2":{"datum":253},
   "y":{"field":"hi","type":"quantitative","scale":{"type":"log","domain":[4012.6,4645.1],"range":[745,0],"clamp":true,"nice":false,"zero":false},
    "axis":{"orient":"right","offset":-63,"values":[4400,4375,4350,4310,4270,4230,4190,4150,4120,4090,4065,4041,4017],"format":",.2f"}},"y2":{"field":"lo"}}},
 {"data":{"name":"levels"},"mark":{"type":"rule","color":"#000000","strokeWidth":1.8,"strokeDash":[1.8,2.9]},
  "encoding":{"x":{"datum":-0.5},"x2":{"datum":277},"y":{"field":"level","type":"quantitative"}}},
 {"data":{"name":"levels"},"mark":{"type":"rule","color":"#000000","strokeWidth":1.5},
  "encoding":{"x":{"datum":287.2},"x2":{"datum":287.5},"y":{"field":"level","type":"quantitative"}}},
 {"data":{"name":"levels"},"mark":{"type":"text","font":"Roboto","fontSize":11,"align":"center","baseline":"middle","color":"#3a3d47"},
  "encoding":{"x":{"datum":282.4},"y":{"field":"level","type":"quantitative"},"text":{"field":"label"}}},
 {"data":{"values":[{"p":4343.63}]},"mark":{"type":"rule","color":"#089981","strokeWidth":1,"strokeDash":[1,2]},
  "encoding":{"x":{"datum":-0.5},"x2":{"datum":280.2},"y":{"field":"p","type":"quantitative"}}},
 {"data":{"name":"bars"},"mark":{"type":"rule","strokeWidth":1,"opacity":0.75},
  "encoding":{"x":{"field":"i","type":"quantitative"},"y":{"field":"h","type":"quantitative"},"y2":{"field":"l"},
   "color":{"condition":{"test":"datum.c>=datum.o","value":"#089981"},"value":"#f23645"}}},
 {"data":{"name":"bars"},"mark":{"type":"bar","size":4.6,"orient":"vertical"},
  "encoding":{"x":{"field":"i","type":"quantitative"},"y":{"field":"o","type":"quantitative"},"y2":{"field":"c"},
   "color":{"condition":{"test":"datum.c>=datum.o","value":"#089981"},"value":"#f23645"}}}
]},
{"layer":[
 {"data":{"values":[{}]},"mark":{"type":"rect","fill":"#2a3a8c","fillOpacity":0.12},
  "encoding":{"x":{"datum":-0.5,"scale":{"domain":[-1.991,299.0],"range":[0,1920],"nice":false,"zero":false,"padding":0},"axis":null},"x2":{"datum":287.9},
   "y":{"datum":70,"scale":{"domain":[-136.3,580.1],"range":[1080,0],"nice":false,"zero":false},
    "axis":{"orient":"right","offset":-63,"values":[80,40],"format":".2f"}},"y2":{"datum":30}}},
 {"data":{"values":[{"lvl":70},{"lvl":50},{"lvl":30}]},"mark":{"type":"rule","color":"#787b86","strokeWidth":1,"strokeDash":[4,3]},
  "encoding":{"x":{"datum":-0.5},"x2":{"datum":287.9},"y":{"field":"lvl","type":"quantitative"},"opacity":{"condition":{"test":"datum.lvl==50","value":0.55},"value":1}}},
 {"data":{"name":"rsima"},"mark":{"type":"line","color":"#f2d675","strokeWidth":1.2,"interpolate":"monotone"},
  "encoding":{"x":{"field":"i","type":"quantitative"},"y":{"field":"m","type":"quantitative"}}},
 {"data":{"name":"bars"},"mark":{"type":"line","color":"#0d1f6b","strokeWidth":2},
  "encoding":{"x":{"field":"i","type":"quantitative"},"y":{"field":"rsi","type":"quantitative"}}}
]},
{"layer":[
 {"data":{"values":[{}]},"mark":{"type":"rule","color":"#c8ccd6","strokeWidth":1,"strokeDash":[4,3]},
  "encoding":{"x":{"datum":-0.5,"scale":{"domain":[-1.991,299.0],"range":[0,1920],"nice":false,"zero":false,"padding":0},
    "axis":{"orient":"bottom","offset":-132,"values":[6,18,30,42,60,72,84,96,108,120,132,144,156,168,180,192,204,216,228,240],
     "labelFontWeight":{"condition":{"test":"datum.value==60||datum.value==180","value":"bold"},"value":"normal"},
     "labelExpr":"{'6':'21','18':'23','30':'27','42':'29','60':'Nov','72':'5','84':'7','96':'11','108':'13','120':'17','132':'19','144':'21','156':'25','168':'27','180':'Dec','192':'3','204':'5','216':'9','228':'11','240':'15'}[datum.value]"}},
   "x2":{"datum":287.9},
   "y":{"datum":0,"scale":{"domain":[-116.9,507.3],"range":[1080,0],"nice":false,"zero":false},
    "axis":{"orient":"right","offset":-63,"values":[0,-20],"format":".2f"}}}},
 {"data":{"name":"bars"},"mark":{"type":"bar","size":5.6,"orient":"vertical"},
  "encoding":{"x":{"field":"i","type":"quantitative"},"y":{"field":"macd","type":"quantitative"},"y2":{"datum":0},
   "color":{"field":"s","type":"nominal","legend":null,"scale":{"domain":["G","g","R","r"],"range":["#26a69a","#b2dfdb","#ff5252","#ffcdd2"]}}}}
]},
{"layer":[
 {"data":{"values":[{"x":1785,"x2":1852,"y":745,"y2":753}]},"mark":{"type":"rect","fill":"#ffffff"},
  "encoding":{"x":{"field":"x","type":"quantitative","scale":{"domain":[0,1920],"range":[0,1920],"nice":false,"zero":false},"axis":null},"x2":{"field":"x2"},
   "y":{"field":"y","type":"quantitative","scale":{"domain":[0,1080],"range":[0,1080],"nice":false,"zero":false},"axis":null},"y2":{"field":"y2"}}},
 {"data":{"values":[{"x":54,"t":198,"b":234},{"x":1920,"t":54,"b":54}]},"mark":{"type":"area","orient":"vertical","color":"#0096ff"},
  "encoding":{"x":{"field":"x","type":"quantitative"},"y":{"field":"t","type":"quantitative"},"y2":{"field":"b"}}},
 {"data":{"values":[{"x":0,"t":0,"b":202},{"x":1751,"t":0,"b":70},{"x":1920,"t":0,"b":54}]},
  "mark":{"type":"area","orient":"vertical","color":{"gradient":"linear","x1":0,"x2":1,"y1":0,"y2":0,"stops":[{"offset":0,"color":"#00308a"},{"offset":0.396,"color":"#0052b2"},{"offset":0.52,"color":"#0068c8"},{"offset":0.755,"color":"#0080e4"},{"offset":1,"color":"#0096ff"}]}},
  "encoding":{"x":{"field":"x","type":"quantitative"},"y":{"field":"t","type":"quantitative"},"y2":{"field":"b"}}},
 {"data":{"values":[{"x":0,"t":1047,"b":1080},{"x":1874,"t":933,"b":1080}]},"mark":{"type":"area","orient":"vertical","color":"#0096ff"},
  "encoding":{"x":{"field":"x","type":"quantitative"},"y":{"field":"t","type":"quantitative"},"y2":{"field":"b"}}},
 {"data":{"values":[{"x":0,"t":1047,"b":1080},{"x":1920,"t":965,"b":1080}]},
  "mark":{"type":"area","orient":"vertical","color":{"gradient":"linear","x1":0,"x2":1,"y1":0,"y2":0,"stops":[{"offset":0,"color":"#0090f8"},{"offset":0.365,"color":"#0068c8"},{"offset":0.677,"color":"#0048a0"},{"offset":1,"color":"#001f6e"}]}},
  "encoding":{"x":{"field":"x","type":"quantitative"},"y":{"field":"t","type":"quantitative"},"y2":{"field":"b"}}},
 {"data":{"values":[{}]},"mark":{"type":"point","shape":"circle","filled":true,"size":18769,"color":"#ffffff","opacity":1},
  "encoding":{"x":{"datum":126.5},"y":{"datum":96.5}}},
 {"data":{"values":[{"g":"a","x":103.7,"t":87.7,"b":87.7},{"g":"a","x":114.4,"t":63.3,"b":87.7},{"g":"a","x":139.6,"t":63.3,"b":87.7},{"g":"a","x":150.3,"t":87.7,"b":87.7},
   {"g":"b","x":75.6,"t":119.3,"b":119.3},{"g":"b","x":86.3,"t":96.3,"b":119.3},{"g":"b","x":112.5,"t":96.3,"b":119.3},{"g":"b","x":122.2,"t":119.3,"b":119.3},
   {"g":"c","x":131.4,"t":119.3,"b":119.3},{"g":"c","x":141.5,"t":96.3,"b":119.3},{"g":"c","x":167.2,"t":96.3,"b":119.3},{"g":"c","x":177.9,"t":119.3,"b":119.3}]},
  "mark":{"type":"area","orient":"vertical","color":"#003a94"},
  "encoding":{"x":{"field":"x","type":"quantitative"},"y":{"field":"t","type":"quantitative"},"y2":{"field":"b"},"detail":{"field":"g"}}},
 {"data":{"values":[{"t":"XAUUSD"}]},"mark":{"type":"text","font":"Liberation Serif","fontWeight":"bold","fontSize":107,"align":"left","baseline":"alphabetic","color":"#ffffff"},
  "encoding":{"x":{"datum":237},"y":{"datum":129},"text":{"field":"t"}}},
 {"data":{"values":[{"t":"MishovMarkets created with TradingView.com, Dec 15, 2025 09:25 UTC+3"}]},"mark":{"type":"text","font":"Roboto","fontSize":11.3,"align":"left","baseline":"alphabetic","color":"#3a3d47"},
  "encoding":{"x":{"datum":9},"y":{"datum":241},"text":{"field":"t"}}},
 {"data":{"values":[{"t":"12/15/2025"}]},"mark":{"type":"text","font":"Liberation Serif","fontSize":62.5,"align":"left","baseline":"alphabetic","color":"#ffffff"},
  "encoding":{"x":{"datum":1480},"y":{"datum":1051},"text":{"field":"t"}}},
 {"data":{"values":[
   {"p":"back","n":0,"x":1812,"y":1052},{"p":"back","n":1,"x":1812,"y":1060},{"p":"back","n":2,"x":1874,"y":1060},{"p":"back","n":3,"x":1874,"y":995},{"p":"back","n":4,"x":1808,"y":995},{"p":"back","n":5,"x":1804,"y":1022},{"p":"back","n":6,"x":1794,"y":1048},{"p":"back","n":7,"x":1857.5,"y":1048},{"p":"back","n":8,"x":1866,"y":1030},{"p":"back","n":9,"x":1871,"y":1010},
   {"p":"bar","n":0,"x":1808,"y":1007},{"p":"bar","n":1,"x":1873,"y":1007},
   {"p":"r1","n":0,"x":1823,"y":989},{"p":"r1","n":1,"x":1823,"y":1002},{"p":"r2","n":0,"x":1840,"y":989},{"p":"r2","n":1,"x":1840,"y":1002},{"p":"r3","n":0,"x":1858,"y":989},{"p":"r3","n":1,"x":1858,"y":1002}]},
  "mark":{"type":"line","color":"#ffffff","strokeWidth":2.6},
  "encoding":{"x":{"field":"x","type":"quantitative"},"y":{"field":"y","type":"quantitative"},"detail":{"field":"p"},"order":{"field":"n"}}},
 {"data":{"values":[{}]},"mark":{"type":"point","shape":"M0,0L37,-44L39,-54L59,-58L53,-37L48,-44Z","size":4,"filled":true,"color":"#0a1f6b","opacity":1},
  "encoding":{"x":{"datum":1594},"y":{"datum":416}}},
 {"data":{"values":[{}]},"mark":{"type":"point","shape":"M0,0L47,46L54,42L59,63L38,57L44,52Z","size":4,"filled":true,"color":"#0a1f6b","opacity":1},
  "encoding":{"x":{"datum":1613},"y":{"datum":590}}},
 {"data":{"values":[{}]},"mark":{"type":"point","shape":"M0,0L12,0L12,14L6,14L6,6L0,6ZM13,3a3,3 0 1 0 6,0a3,3 0 1 0 -6,0ZM23,0L28,0L21,14L15,14Z","size":4,"filled":true,"color":"#131722","opacity":1},
  "encoding":{"x":{"datum":11},"y":{"datum":989}}},
 {"data":{"values":[{"t":"TradingView"}]},"mark":{"type":"text","font":"Inter","fontWeight":600,"fontSize":19,"align":"left","baseline":"alphabetic","color":"#131722"},
  "encoding":{"x":{"datum":46},"y":{"datum":1003},"text":{"field":"t"}}},
 {"data":{"values":[{"x":1800,"x2":1848,"y":336,"y2":350},{"x":1849,"x2":1906,"y":335,"y2":364}]},"mark":{"type":"rect","fill":"#089981"},
  "encoding":{"x":{"field":"x","type":"quantitative"},"x2":{"field":"x2"},"y":{"field":"y","type":"quantitative"},"y2":{"field":"y2"}}},
 {"data":{"values":[{"x":1849,"x2":1890,"y":763,"y2":779,"k":"a"},{"x":1849,"x2":1890,"y":779,"y2":795,"k":"b"},{"x":1849,"x2":1884,"y":856,"y2":872,"k":"c"}]},"mark":{"type":"rect"},
  "encoding":{"x":{"field":"x","type":"quantitative"},"x2":{"field":"x2"},"y":{"field":"y","type":"quantitative"},"y2":{"field":"y2"},
   "color":{"field":"k","type":"nominal","legend":null,"scale":{"domain":["a","b","c"],"range":["#0d1f6b","#fdd835","#26a69a"]}}}},
 {"data":{"values":[{"t":"XAUUSD"}]},"mark":{"type":"text","font":"Roboto","fontSize":11,"align":"left","baseline":"middle","color":"#ffffff"},"encoding":{"x":{"datum":1804},"y":{"datum":343},"text":{"field":"t"}}},
 {"data":{"values":[{"t":"4,343.63"}]},"mark":{"type":"text","font":"Roboto","fontSize":11,"align":"left","baseline":"middle","color":"#ffffff"},"encoding":{"x":{"datum":1857},"y":{"datum":342},"text":{"field":"t"}}},
 {"data":{"values":[{"t":"34:13"}]},"mark":{"type":"text","font":"Roboto","fontSize":11,"align":"left","baseline":"middle","color":"#c8efe6"},"encoding":{"x":{"datum":1857},"y":{"datum":355},"text":{"field":"t"}}},
 {"data":{"values":[{"t":"68.82"}]},"mark":{"type":"text","font":"Roboto","fontSize":11,"align":"left","baseline":"middle","color":"#ffffff"},"encoding":{"x":{"datum":1857},"y":{"datum":771},"text":{"field":"t"}}},
 {"data":{"values":[{"t":"65.13"}]},"mark":{"type":"text","font":"Roboto","fontSize":11,"align":"left","baseline":"middle","color":"#131722"},"encoding":{"x":{"datum":1857},"y":{"datum":787},"text":{"field":"t"}}},
 {"data":{"values":[{"t":"8.31"}]},"mark":{"type":"text","font":"Roboto","fontSize":11,"align":"left","baseline":"middle","color":"#ffffff"},"encoding":{"x":{"datum":1857},"y":{"datum":864},"text":{"field":"t"}}},
 {"data":{"values":[{"t":"RSI"}]},"mark":{"type":"text","font":"Roboto","fontSize":10.5,"align":"left","baseline":"middle","color":"#3a3d47"},"encoding":{"x":{"datum":17},"y":{"datum":760},"text":{"field":"t"}}},
 {"data":{"values":[{"t":"MACD"}]},"mark":{"type":"text","font":"Roboto","fontSize":10.5,"align":"left","baseline":"middle","color":"#3a3d47"},"encoding":{"x":{"datum":17},"y":{"datum":857},"text":{"field":"t"}}}
]}
],
"resolve":{"scale":{"x":"independent","y":"independent","color":"independent"},"axis":{"x":"independent","y":"independent"}}
}
